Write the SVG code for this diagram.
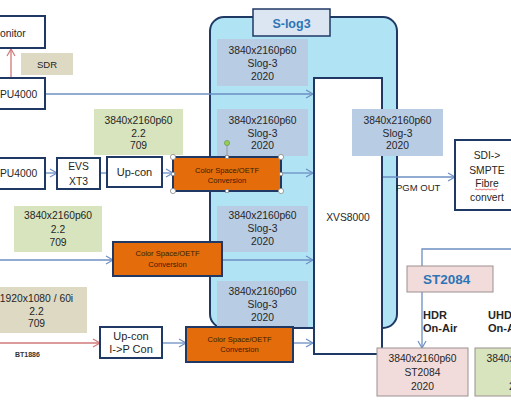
<svg xmlns="http://www.w3.org/2000/svg" width="511" height="400" viewBox="0 0 511 400">
<style>
text{font-family:"Liberation Sans",Arial,sans-serif;fill:#262626;font-size:10.3px}
.c{text-anchor:middle}
.nb{fill:#fff;stroke:#1f3864;stroke-width:2}
.lb{fill:#b8cce4}
.gr{fill:#d7e4bd}
.tn{fill:#ddd9c3}
.pk{fill:#f2dcdb;stroke:#9c9090;stroke-width:1}
.or{fill:#e46c0a;stroke:#1f3864;stroke-width:2}
.ot{font-size:7.6px;fill:#3a1c05;text-anchor:middle}
.ln{stroke:#6d8fc4;stroke-width:1.3;fill:none}
.rd{stroke:#d27878;stroke-width:1.3;fill:none}
.bt{font-weight:bold;fill:#2e75b6}
.hd{font-weight:bold;font-size:11px;fill:#262626}
.h{fill:#fff;stroke:#8a8a8a;stroke-width:0.8}
</style>
<defs>
<marker id="ab" markerUnits="userSpaceOnUse" markerWidth="10" markerHeight="10" refX="8" refY="5" orient="auto"><path d="M1,1 L8,5 L1,9" fill="none" stroke="#6d8fc4" stroke-width="1.2"/></marker>
<marker id="ar" markerUnits="userSpaceOnUse" markerWidth="10" markerHeight="10" refX="8" refY="5" orient="auto"><path d="M1,1 L8,5 L1,9" fill="none" stroke="#d27878" stroke-width="1.2"/></marker>
</defs>
<rect width="511" height="400" fill="#fff"/>

<g id="panel-slog3">
<rect x="210" y="17" width="187" height="311" rx="14" fill="#b0e4f5" stroke="#1f3864" stroke-width="2"/>
<rect x="253" y="9" width="77" height="27" fill="#dce6f2" stroke="#1f3864" stroke-width="1.5"/>
<text x="291.5" y="27.5" class="c bt" style="font-size:12.5px">S-log3</text>
</g>
<g id="label-slog-1"><rect x="217" y="39" width="91" height="47" class="lb"/>
<text x="262.5" y="54" class="c">3840x2160p60</text><text x="262.5" y="67" class="c">Slog-3</text><text x="262.5" y="80" class="c">2020</text></g>
<g id="label-slog-2"><rect x="217" y="109" width="91" height="47" class="lb"/>
<text x="262.5" y="124" class="c">3840x2160p60</text><text x="262.5" y="137" class="c">Slog-3</text><text x="262.5" y="149" class="c">2020</text></g>
<g id="label-slog-3"><rect x="217" y="206" width="91" height="46" class="lb"/>
<text x="262.5" y="219" class="c">3840x2160p60</text><text x="262.5" y="232" class="c">Slog-3</text><text x="262.5" y="245" class="c">2020</text></g>
<g id="label-slog-4"><rect x="217" y="281" width="91" height="46" class="lb"/>
<text x="262.5" y="295" class="c">3840x2160p60</text><text x="262.5" y="308" class="c">Slog-3</text><text x="262.5" y="321" class="c">2020</text></g>

<g id="connectors">
<line x1="11" y1="78" x2="11" y2="49" class="rd" marker-end="url(#ar)"/>
<line x1="45" y1="94" x2="313" y2="94" class="ln" marker-end="url(#ab)"/>
<line x1="45" y1="173" x2="57" y2="173" class="ln" marker-end="url(#ab)"/>
<line x1="100" y1="173" x2="107" y2="173" class="ln"/>
<line x1="162" y1="173" x2="173" y2="173" class="ln" marker-end="url(#ab)"/>
<line x1="281" y1="173" x2="313" y2="173" class="ln" marker-end="url(#ab)"/>
<line x1="0" y1="260" x2="113" y2="260" class="ln" marker-end="url(#ab)"/>
<line x1="222" y1="260" x2="313" y2="260" class="ln" marker-end="url(#ab)"/>
<line x1="0" y1="343" x2="100" y2="343" class="rd" marker-end="url(#ar)"/>
<line x1="162" y1="343" x2="186" y2="343" class="ln" marker-end="url(#ab)"/>
<line x1="293" y1="343" x2="313" y2="343" class="ln" marker-end="url(#ab)"/>
<line x1="382" y1="177" x2="455" y2="177" class="ln" marker-end="url(#ab)"/>
<polyline points="511,249 422,249 422,348" class="ln" marker-end="url(#ab)"/>
</g>

<g id="xvs8000"><rect x="314" y="78" width="68" height="276" class="nb"/>
<text x="348" y="221" class="c">XVS8000</text></g>
<g id="label-pgm"><rect x="352" y="109" width="91" height="47" class="lb"/>
<text x="397.5" y="124" class="c">3840x2160p60</text><text x="397.5" y="137" class="c">Slog-3</text><text x="397.5" y="149" class="c">2020</text></g>
<text x="396" y="191" style="font-size:9.5px">PGM OUT</text>
<g id="sdi-convert"><rect x="455" y="140" width="62" height="70" class="nb"/>
<text x="487" y="159" class="c">SDI-&gt;</text><text x="487" y="174" class="c">SMPTE</text><text x="487" y="187" class="c">Fibre</text><text x="487" y="201" class="c">convert</text>
<path d="M475,189.5 q1,-1 2,0 t2,0 t2,0 t2,0 t2,0 t2,0 t2,0 t2,0 t2,0 t2,0 t2,0" fill="none" stroke="#e03030" stroke-width="0.7"/></g>

<g id="label-st2084"><rect x="407" y="266" width="86" height="26" class="pk"/>
<text x="423" y="284" class="bt" style="font-size:13.5px">ST2084</text></g>
<text x="423" y="319" class="hd">HDR</text><text x="423" y="332" class="hd">On-Air</text>
<text x="488" y="319" class="hd">UHD</text><text x="488" y="332" class="hd">On-Air</text>
<g id="hdr-onair"><rect x="377" y="348" width="91" height="48" class="pk"/>
<text x="422.5" y="362" class="c">3840x2160p60</text><text x="422.5" y="376" class="c">ST2084</text><text x="422.5" y="390" class="c">2020</text></g>
<g id="uhd-onair"><rect x="475" y="348" width="91" height="48" class="gr" stroke="#9c9090" stroke-width="1"/>
<text x="520.5" y="362" class="c">3840x2160p60</text><text x="520.5" y="390" class="c">2020</text></g>

<g id="monitor"><rect x="-5" y="16" width="50" height="32" class="nb"/><text x="0" y="37">onitor</text></g>
<g id="label-sdr"><rect x="21" y="53" width="52" height="22" class="tn"/><text x="47" y="68" class="c" style="font-size:9.5px">SDR</text></g>
<g id="pu4000-1"><rect x="-5" y="78" width="50" height="31" class="nb"/><text x="0" y="98">PU4000</text></g>
<g id="pu4000-2"><rect x="-5" y="158" width="50" height="31" class="nb"/><text x="0" y="177">PU4000</text></g>
<g id="evs-xt3"><rect x="57" y="158" width="43" height="31" class="nb"/>
<text x="78.5" y="170" class="c">EVS</text><text x="78.5" y="185" class="c">XT3</text></g>
<g id="upcon-1"><rect x="107" y="157" width="55" height="30" class="nb"/><text x="134.5" y="176" class="c" style="font-size:11px">Up-con</text></g>
<g id="label-709-1"><rect x="94" y="109" width="89" height="46" class="gr"/>
<text x="138.5" y="124" class="c">3840x2160p60</text><text x="138.5" y="137" class="c">2.2</text><text x="138.5" y="149" class="c">709</text></g>
<g id="colorspace-1"><rect x="173" y="157" width="108" height="34" class="or"/>
<text x="227" y="172.5" class="ot">Color Space/OETF</text><text x="227" y="183" class="ot">Conversion</text>
<line x1="227" y1="145" x2="227" y2="157" stroke="#8a8a8a" stroke-width="0.8"/>
<circle cx="227" cy="143" r="2.6" fill="#92d050" stroke="#6a8a50" stroke-width="0.6"/>
<circle cx="173" cy="157" r="2.6" class="h"/><circle cx="281" cy="157" r="2.6" class="h"/>
<circle cx="173" cy="191" r="2.6" class="h"/><circle cx="281" cy="191" r="2.6" class="h"/>
<rect x="225.5" y="155.5" width="3" height="3" class="h"/><rect x="225.5" y="189.5" width="3" height="3" class="h"/>
<rect x="171.5" y="172.5" width="3" height="3" class="h"/><rect x="279.5" y="172.5" width="3" height="3" class="h"/></g>
<g id="label-709-2"><rect x="14" y="206" width="88" height="46" class="gr"/>
<text x="58" y="219" class="c">3840x2160p60</text><text x="58" y="233" class="c">2.2</text><text x="58" y="246" class="c">709</text></g>
<g id="colorspace-2"><rect x="113" y="242" width="109" height="34" class="or"/>
<text x="167.5" y="256" class="ot">Color Space/OETF</text><text x="167.5" y="267" class="ot">Conversion</text></g>
<g id="label-1080i"><rect x="-14" y="287" width="101" height="46" class="tn"/>
<text x="36.5" y="302" class="c">1920x1080 / 60i</text><text x="36.5" y="315" class="c">2.2</text><text x="36.5" y="327" class="c">709</text></g>
<text x="15" y="357" style="font-size:7px;font-weight:bold;fill:#333">BT1886</text>
<g id="upcon-ip"><rect x="100" y="327" width="62" height="31" class="nb"/>
<text x="131" y="340" class="c" style="font-size:11px">Up-con</text><text x="131" y="353" class="c" style="font-size:11px">I-&gt;P Con</text></g>
<g id="colorspace-3"><rect x="186" y="327" width="107" height="35" class="or"/>
<text x="239.5" y="341.5" class="ot">Color Space/OETF</text><text x="239.5" y="352" class="ot">Conversion</text></g>
</svg>
